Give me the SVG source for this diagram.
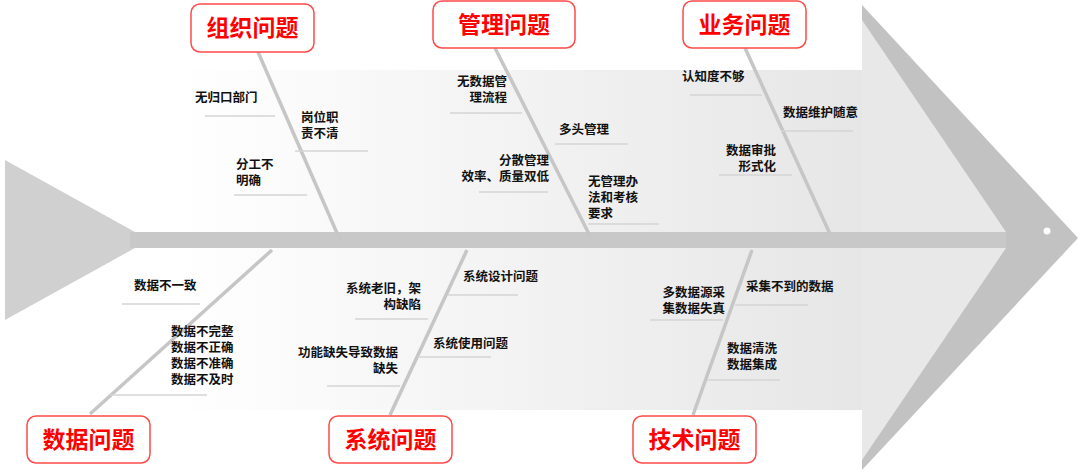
<svg xmlns="http://www.w3.org/2000/svg" width="1080" height="475" viewBox="0 0 1080 475">
<defs>
<linearGradient id="bg" x1="0" y1="0" x2="1" y2="0">
<stop offset="0" stop-color="#ffffff"/><stop offset="1" stop-color="#e6e6e6"/>
</linearGradient>
<style>
.bone{stroke:#c6c6c6;stroke-width:3.5;fill:none}
.ul{stroke:#d4d4d4;stroke-width:1.5}
.t{font-family:"Liberation Sans","Noto Sans CJK SC",sans-serif;font-size:12.5px;font-weight:bold;fill:#111}
.box{fill:#fff;stroke:#ff4a4a;stroke-width:1.5}
.bt{font-family:"Noto Sans CJK SC",sans-serif;font-size:23px;font-weight:bold;fill:#ff0000;text-anchor:middle}
.r{text-anchor:end}
</style>
</defs>
<rect width="1080" height="475" fill="#fff"/>
<g id="body">
<rect x="175" y="70" width="690" height="340" fill="url(#bg)"/>
<polygon points="862,5 1078,238 862,470" fill="#c2c2c2"/>
<polygon points="862,20 1006,232 1006,248 862,460" fill="#e8e8e8"/>
<polygon points="5,160 135,232 135,248 5,320" fill="#d0d0d0"/>
<rect x="130" y="232" width="876" height="16" fill="#c8c8c8"/>
<circle cx="1047" cy="231" r="3.5" fill="#fff"/>
</g>
<g id="connectors">
<line class="bone" x1="258" y1="52" x2="340" y2="240"/>
<line class="bone" x1="495" y1="48" x2="590" y2="236"/>
<line class="bone" x1="745" y1="48" x2="830" y2="234"/>
<line class="bone" x1="272" y1="250" x2="90" y2="414"/>
<line class="bone" x1="467" y1="250" x2="390" y2="415"/>
<line class="bone" x1="752" y1="250" x2="693" y2="415"/>
<line class="ul" x1="205" y1="116" x2="275" y2="116"/>
<line class="ul" x1="295" y1="151" x2="368" y2="151"/>
<line class="ul" x1="234" y1="195" x2="307" y2="195"/>
<line class="ul" x1="450" y1="113" x2="522" y2="113"/>
<line class="ul" x1="555" y1="144" x2="628" y2="144"/>
<line class="ul" x1="479" y1="192" x2="548" y2="192"/>
<line class="ul" x1="588" y1="224" x2="659" y2="224"/>
<line class="ul" x1="690" y1="95" x2="762" y2="95"/>
<line class="ul" x1="781" y1="131" x2="853" y2="131"/>
<line class="ul" x1="719" y1="175" x2="792" y2="175"/>
<line class="ul" x1="122" y1="304" x2="200" y2="304"/>
<line class="ul" x1="110" y1="395" x2="207" y2="395"/>
<line class="ul" x1="355" y1="319" x2="428" y2="319"/>
<line class="ul" x1="448" y1="295" x2="518" y2="295"/>
<line class="ul" x1="327" y1="386" x2="400" y2="386"/>
<line class="ul" x1="418" y1="357" x2="491" y2="357"/>
<line class="ul" x1="650" y1="320" x2="723" y2="320"/>
<line class="ul" x1="735" y1="305" x2="808" y2="305"/>
<line class="ul" x1="707" y1="380" x2="780" y2="380"/>
</g>
<g id="n-org"><rect class="box" x="191" y="4" width="123" height="48" rx="9"/><text class="bt" x="252.5" y="36">组织问题</text></g>
<g id="n-mgmt"><rect class="box" x="433" y="1" width="142" height="47" rx="9"/><text class="bt" x="504" y="33">管理问题</text></g>
<g id="n-biz"><rect class="box" x="683" y="1" width="123" height="47" rx="9"/><text class="bt" x="744.5" y="33">业务问题</text></g>
<g id="n-data"><rect class="box" x="27" y="416" width="123" height="47" rx="9"/><text class="bt" x="88.5" y="448">数据问题</text></g>
<g id="n-sys"><rect class="box" x="329" y="416" width="123" height="47" rx="9"/><text class="bt" x="390.5" y="448">系统问题</text></g>
<g id="n-tech"><rect class="box" x="633" y="416" width="123" height="47" rx="9"/><text class="bt" x="694.5" y="448">技术问题</text></g>
<g id="labels">
<text class="t" x="195" y="102">无归口部门</text>
<text class="t" x="301" y="122">岗位职</text><text class="t" x="301" y="138">责不清</text>
<text class="t" x="236" y="169">分工不</text><text class="t" x="236" y="185">明确</text>
<text class="t r" x="507" y="86">无数据管</text><text class="t r" x="507" y="102">理流程</text>
<text class="t" x="559" y="134">多头管理</text>
<text class="t r" x="549" y="165">分散管理</text><text class="t r" x="549" y="181">效率、质量双低</text>
<text class="t" x="588" y="186">无管理办</text><text class="t" x="588" y="202">法和考核</text><text class="t" x="588" y="218">要求</text>
<text class="t" x="682" y="81">认知度不够</text>
<text class="t" x="783" y="117">数据维护随意</text>
<text class="t r" x="776" y="155">数据审批</text><text class="t r" x="776" y="171">形式化</text>
<text class="t" x="134" y="290">数据不一致</text>
<text class="t" x="171" y="336">数据不完整</text><text class="t" x="171" y="352">数据不正确</text><text class="t" x="171" y="368">数据不准确</text><text class="t" x="171" y="384">数据不及时</text>
<text class="t r" x="421" y="293">系统老旧，架</text><text class="t r" x="421" y="309">构缺陷</text>
<text class="t" x="463" y="281">系统设计问题</text>
<text class="t r" x="398" y="357">功能缺失导致数据</text><text class="t r" x="398" y="373">缺失</text>
<text class="t" x="433" y="348">系统使用问题</text>
<text class="t r" x="725" y="297">多数据源采</text><text class="t r" x="725" y="313">集数据失真</text>
<text class="t" x="746" y="291">采集不到的数据</text>
<text class="t" x="727" y="353">数据清洗</text><text class="t" x="727" y="369">数据集成</text>
</g>
</svg>
